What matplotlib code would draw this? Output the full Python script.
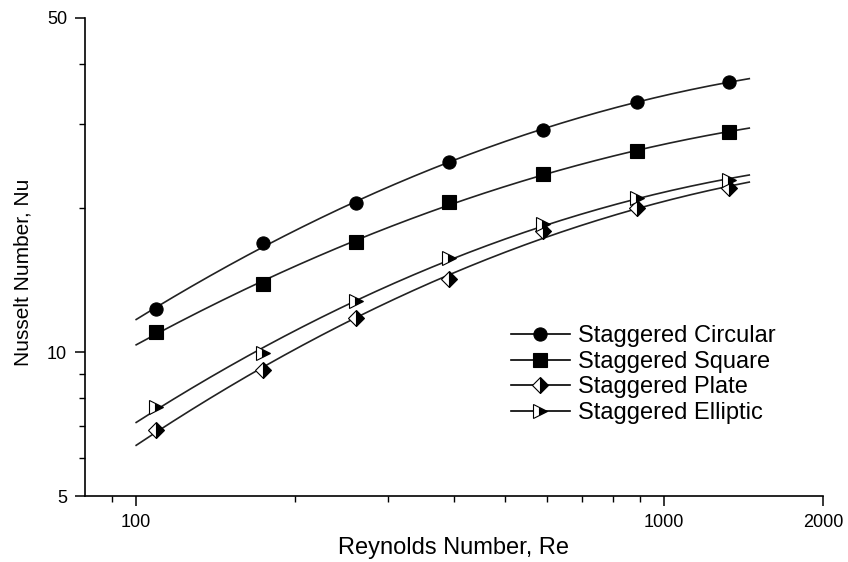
import numpy as np
import matplotlib
matplotlib.use("Agg")
import matplotlib.pyplot as plt
from matplotlib.ticker import FixedLocator, NullFormatter, FixedFormatter

plt.rcParams['font.family'] = ['Liberation Sans', 'DejaVu Sans']

re_vals = [109, 174, 261, 392, 590, 887, 1328]
nu_circular = [12.3, 16.9, 20.5, 25.0, 29.2, 33.3, 36.8]
nu_square = [11.0, 13.9, 17.0, 20.6, 23.6, 26.3, 28.9]
nu_plate = [6.87, 9.18, 11.8, 14.2, 17.9, 20.0, 22.0]
nu_elliptic = [7.68, 9.96, 12.8, 15.7, 18.5, 21.0, 22.9]

series = [
    ("Staggered Circular", nu_circular, dict(marker='o', fillstyle='full')),
    ("Staggered Square", nu_square, dict(marker='s', fillstyle='full')),
    ("Staggered Plate", nu_plate, dict(marker='D', fillstyle='right', markersize=8.5)),
    ("Staggered Elliptic", nu_elliptic, dict(marker='>', fillstyle='right', markersize=10)),
]

fig = plt.figure(figsize=(8.48, 5.62), dpi=100)
ax = fig.add_axes([85/848, 1 - 496/562, 738/848, 478/562])

lx = np.log10(np.array(re_vals, dtype=float))
xs = np.logspace(np.log10(100), np.log10(1450), 200)
for name, ys, style in series:
    coef = np.polyfit(lx, np.log10(ys), 2)
    fit = 10 ** np.polyval(coef, np.log10(xs))
    ax.plot(xs, fit, color='#222222', lw=1.2, zorder=2)
    kw = dict(markersize=9.5, markerfacecolor='black', markerfacecoloralt='white',
              markeredgecolor='black', markeredgewidth=0.8)
    kw.update(style)
    ax.plot(re_vals, ys, linestyle='none', zorder=3, **kw)
    # legend proxy
    ax.plot([], [], color='black', lw=1.2, label=name, **kw)

ax.set_xscale('log')
ax.set_yscale('log')
ax.set_xlim(80, 2000)
ax.set_ylim(5, 50)

ax.xaxis.set_major_locator(FixedLocator([100, 1000, 2000]))
ax.xaxis.set_major_formatter(FixedFormatter(['100', '1000', '2000']))
ax.xaxis.set_minor_locator(FixedLocator([90, 200, 300, 400, 500, 600, 700, 800, 900]))
ax.xaxis.set_minor_formatter(NullFormatter())
ax.yaxis.set_major_locator(FixedLocator([5, 10, 50]))
ax.yaxis.set_major_formatter(FixedFormatter(['5', '10', '50']))
ax.yaxis.set_minor_locator(FixedLocator([6, 7, 8, 9, 20, 30, 40]))
ax.yaxis.set_minor_formatter(NullFormatter())

for s in ['top', 'right']:
    ax.spines[s].set_visible(False)
for s in ['left', 'bottom']:
    ax.spines[s].set_linewidth(1.2)

ax.tick_params(which='major', direction='out', length=7, width=1.1, labelsize=13, pad=6)
ax.tick_params(which='minor', direction='out', length=4, width=1.0)

ax.set_xlabel('Reynolds Number, Re', fontsize=17, labelpad=4)
ax.set_ylabel('Nusselt Number, Nu', fontsize=15)
ax.yaxis.set_label_coords(-0.071, 0.469)

leg = ax.legend(loc='upper left', bbox_to_anchor=(0.577, 0.357), frameon=False,
                fontsize=17, handlelength=2.5, handletextpad=0.34,
                labelspacing=0.15, borderpad=0, borderaxespad=0, numpoints=1)

fig.savefig('out.png', dpi=100, facecolor='white')
